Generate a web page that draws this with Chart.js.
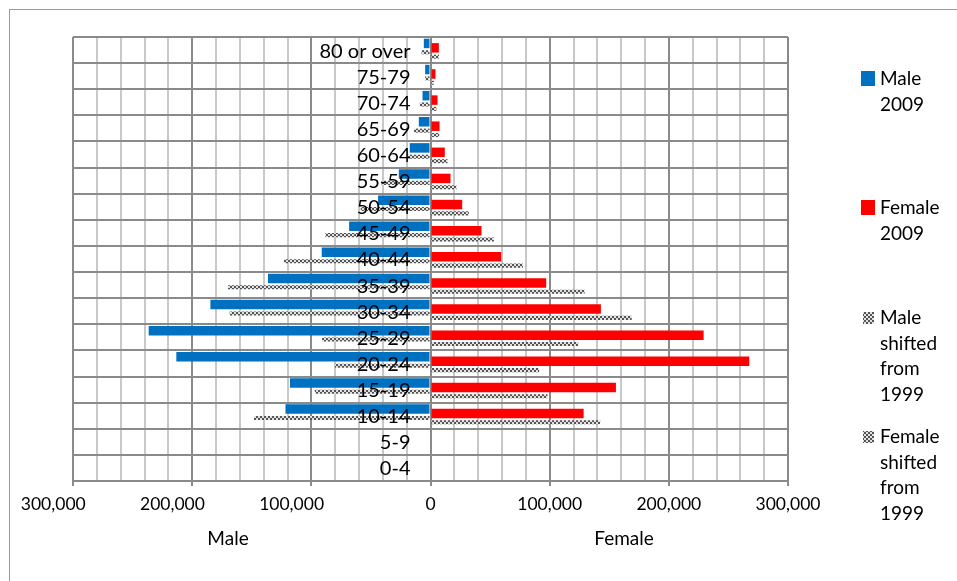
<!DOCTYPE html>
<html>
<head>
<meta charset="utf-8">
<title>Population pyramid</title>
<script src="https://cdn.jsdelivr.net/npm/chart.js@4.4.0/dist/chart.umd.min.js"></script>
<style>
  html, body { margin: 0; padding: 0; background: #fff; overflow: hidden; }
  #chartBox { position: relative; width: 957px; height: 581px; }
</style>
</head>
<body>
<div id="chartBox"><canvas id="pyramidChart" width="957" height="581"></canvas></div>
<script>
// age groups, bottom to top
var ageGroups = ['0-4', '5-9', '10-14', '15-19', '20-24', '25-29', '30-34', '35-39',
                 '40-44', '45-49', '50-54', '55-59', '60-64', '65-69', '70-74', '75-79', '80 or over'];

// people per age group
var male2009      = [null, null, 121700, 117900, 213300, 236500, 184700, 136400, 91300, 68300, 44000, 26600, 17400, 9800, 6700, 4500, 5600];
var female2009    = [null, null, 128500, 155600, 267500, 229200, 143000, 97100, 59300, 42800, 26600, 16800, 12000, 7600, 5900, 4200, 7000];
var maleShifted   = [null, null, 148100, 97100, 80100, 91000, 168500, 170000, 123000, 88200, 58500, 41000, 19000, 13800, 9000, 4500, 7500];
var femaleShifted = [null, null, 142400, 98200, 91200, 124000, 168800, 129300, 77500, 53200, 32200, 21800, 14300, 7300, 5000, 2800, 7200];

var seriesNames = ['Male 2009', 'Female 2009', 'Male shifted from 1999', 'Female shifted from 1999'];
var axisMin = -300000, axisMax = 300000, minorStep = 20000, majorStep = 100000;

var FONT = 'Lato, "Open Sans", sans-serif';

// grey checker fill like the Excel pattern
function checkerPattern(){
    var c = document.createElement('canvas');
    c.width = 4; c.height = 4;
    var g = c.getContext('2d');
    g.fillStyle = '#e2e2e2';
    g.fillRect(0, 0, 4, 4);
    g.fillStyle = '#555555';
    g.fillRect(0, 0, 2, 2);
    g.fillRect(2, 2, 2, 2);
    return g.createPattern(c, 'repeat');
}
var checker = checkerPattern();

function negate(arr){
    return arr.map(function(v){ return v == null ? null : -v; });
}

//---------- drawing helpers (labels on top of bars, legend, border)
var pyramidDecor = {
    id: 'pyramidDecor',
    beforeDraw: function(chart){
        var ctx = chart.ctx;
        ctx.save();
        ctx.strokeStyle = '#9a9a9a';
        ctx.lineWidth = 1;
        ctx.strokeRect(9.5, 9.5, 2000, 2000);
        ctx.restore();
    },
    afterDatasetsDraw: function(chart){
        var ctx = chart.ctx;
        var xs = chart.scales.x, ys = chart.scales.y;
        var zeroX = xs.getPixelForValue(0);
        ctx.save();
        ctx.font = '20px ' + FONT;
        ctx.fillStyle = '#000';
        ctx.textAlign = 'right';
        ctx.textBaseline = 'middle';
        for (var i = 0; i < ageGroups.length; i++){
            ctx.fillText(ageGroups[i], zeroX - 20, ys.getPixelForValue(i) + 1);
        }
        ctx.restore();
    },
    afterDraw: function(chart){
        var ctx = chart.ctx;
        ctx.save();
        ctx.font = '19px ' + FONT;
        ctx.fillStyle = '#000';
        ctx.textBaseline = 'middle';
        ctx.textAlign = 'center';
        ctx.fillText('Male', 228, 539);
        ctx.fillText('Female', 624, 539);

        // legend, one word per line
        var firstLineY = [79, 208, 318, 437];
        var lineGap = 25.5;
        ctx.textAlign = 'left';
        chart.data.datasets.forEach(function(ds, k){
            var y0 = firstLineY[k];
            ctx.fillStyle = ds.backgroundColor;
            if (k < 2) ctx.fillRect(861, y0 - 8, 14, 15);
            else ctx.fillRect(863, y0 - 6, 11, 12);
            ctx.fillStyle = '#000';
            seriesNames[k].split(' ').forEach(function(word, j){
                ctx.fillText(word, 880, y0 + j * lineGap);
            });
        });
        ctx.restore();
    }
};

var ctx = document.getElementById('pyramidChart').getContext('2d');
var myChart = new Chart(ctx, {
    type: 'bar',
    data: {
        labels: ageGroups,
        datasets: [{
            label: seriesNames[0],
            data: negate(male2009),
            backgroundColor: '#0070C0',
            categoryPercentage: 0.677,
            barPercentage: 2.15
        },
        {
            label: seriesNames[1],
            data: female2009,
            backgroundColor: '#FF0000',
            categoryPercentage: 0.677,
            barPercentage: 2.15
        },
        {
            label: seriesNames[2],
            data: negate(maleShifted),
            backgroundColor: checker,
            categoryPercentage: 0.677,
            barPercentage: 0.92
        },
        {
            label: seriesNames[3],
            data: femaleShifted,
            backgroundColor: checker,
            categoryPercentage: 0.677,
            barPercentage: 0.92
        }]
    },
    options: {
        indexAxis: 'y',
        responsive: false,
        animation: false,
        layout: {
            padding: { left: 73, top: 37, right: 169, bottom: 58 }
        },
        plugins: {
            legend: { display: false },
            tooltip: { enabled: false }
        },
        scales: {
            x: {
                min: axisMin,
                max: axisMax,
                border: { color: '#8a8a8a', width: 2 },
                grid: {
                    color: function(c){
                        return (c.tick && c.tick.value % majorStep === 0) ? '#8a8a8a' : '#c8c8c8';
                    },
                    tickColor: function(c){
                        return (c.tick && c.tick.value % majorStep === 0) ? '#8a8a8a' : 'rgba(0,0,0,0)';
                    },
                    tickLength: 5,
                    lineWidth: 2
                },
                ticks: {
                    stepSize: minorStep,
                    autoSkip: false,
                    maxRotation: 0,
                    padding: 8,
                    color: '#000',
                    font: { family: FONT, size: 17.5 },
                    callback: function(v){
                        if (v % majorStep !== 0) return '';
                        var s = Math.abs(v).toLocaleString('en-US');
                        // Excel leaves room for a hidden minus sign on the male side
                        return v < 0 ? s + '\u2002\u2002\u2002\u2002 ' : s;
                    }
                }
            },
            y: {
                reverse: true,
                border: { display: false },
                grid: {
                    offset: true,
                    color: '#8a8a8a',
                    drawTicks: false,
                    lineWidth: 2
                },
                ticks: { display: false }
            }
        }
    },
    plugins: [pyramidDecor]
});
</script>
</body>
</html>
